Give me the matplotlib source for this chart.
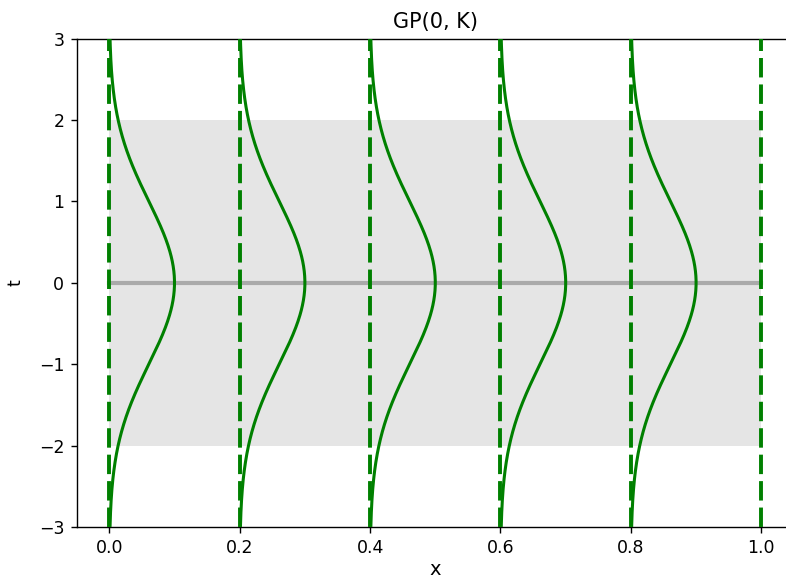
import numpy as np
import matplotlib
matplotlib.use("Agg")
import matplotlib.pyplot as plt

# Input locations and GP prior summary
x_points = [0.0, 0.2, 0.4, 0.6, 0.8, 1.0]
density_points = [0.0, 0.2, 0.4, 0.6, 0.8]
mean_value = 0.0
band_half_width = 2.0
density_scale = 0.1
x_ticks = [0.0, 0.2, 0.4, 0.6, 0.8, 1.0]
y_ticks = [-3, -2, -1, 0, 1, 2, 3]

W, H = 786, 582
fig = plt.figure(figsize=(W / 100, H / 100), dpi=100)
left, right, top, bottom = 76.7, 793.9, 38.5, 527.0
ax = fig.add_axes([left / W, 1 - bottom / H, (right - left) / W, (bottom - top) / H])

# +/- 2 standard deviation band and the mean
ax.fill_between([x_points[0], x_points[-1]], mean_value - band_half_width,
                mean_value + band_half_width, color="#e5e5e5", lw=0, zorder=1)
ax.plot([x_points[0], x_points[-1]], [mean_value, mean_value],
        color="#aaaaaa", lw=3, zorder=2)

# Marginal densities drawn sideways at each input
t = np.linspace(-3, 3, 400)
for xp in density_points:
    ax.plot(xp + density_scale * np.exp(-0.5 * (t - mean_value) ** 2), t,
            color="green", lw=2.2, zorder=3)

for xp in x_points:
    ax.axvline(xp, color="green", lw=2.8, ls=(0, (5.0, 1.8)), zorder=4)

ax.set_xlim(-0.05, 1.05)
ax.set_ylim(-3, 3)
ax.set_xticks(x_ticks)
ax.set_yticks(y_ticks)
ax.set_xticklabels([f"{v:.1f}" for v in x_ticks])
ax.set_yticklabels(["\u2212" + str(-v) if v < 0 else str(v) for v in y_ticks])
ax.tick_params(labelsize=12.5, length=4.4, width=1.0, pad=4.5)
for s in ax.spines.values():
    s.set_linewidth(1.0)

ax.set_title("GP(0, K)", fontsize=15, pad=7.5)
ax.set_xlabel("x", fontsize=14, labelpad=2)
ax.set_ylabel("t", fontsize=12.5, labelpad=10)

fig.savefig("out.png", dpi=100)
